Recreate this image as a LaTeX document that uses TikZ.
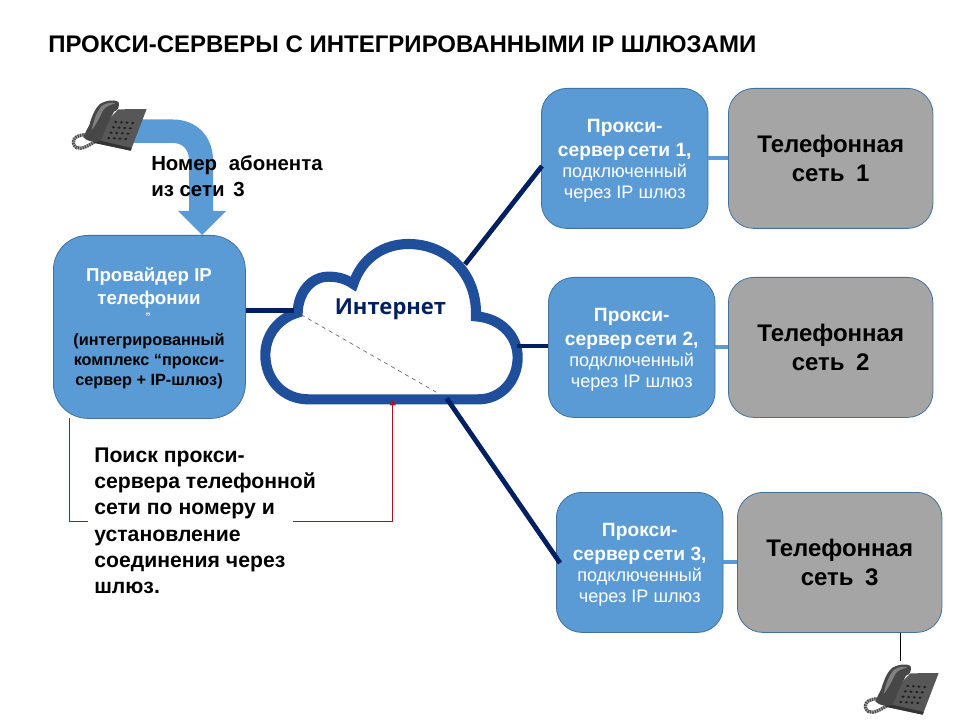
\documentclass[tikz,border=0pt]{standalone}
\usepackage{fontspec}
\setmainfont{Liberation Sans}
\newfontfamily\cloudfont{Open Sans}
\usetikzlibrary{arrows.meta,positioning}
\definecolor{boxblue}{HTML}{5B9BD5}
\definecolor{boxedge}{HTML}{41719C}
\definecolor{grayfill}{HTML}{A5A5A5}
\definecolor{navy}{HTML}{002060}
\definecolor{cloudblue}{HTML}{1F4E9B}
\definecolor{redline}{HTML}{B01020}
\newcommand{\pxb}{\bfseries\fontsize{14.4}{15.75}\selectfont}
\newcommand{\pxr}{\fontsize{13.6}{15.75}\selectfont}
\tikzset{
  bluebox/.style={draw=boxedge,line width=.6pt,fill=boxblue,rounded corners=19pt,inner sep=0pt,
    minimum width=125pt,minimum height=105pt,align=center,text=white,anchor=north west,font=\fontsize{13}{15.75}\selectfont},
  graybox/.style={draw=boxedge,line width=.6pt,fill=grayfill,rounded corners=19pt,inner sep=0pt,
    minimum width=153.4pt,minimum height=105pt,align=center,text=black,font=\bfseries\fontsize{18}{22}\selectfont,anchor=north west},
  navyline/.style={draw=navy,line width=3.6pt},
  feedline/.style={draw=boxblue,line width=3pt},
  redwire/.style={draw=redline,line width=.75pt},
  blacktext/.style={inner sep=0pt,align=left,anchor=north west,text=black}
}
\newcommand{\proxytext}[1]{\rule{0pt}{13pt}\pxb Прокси-\\[2.2pt] \pxb сервер\hspace{.15em}сети #1,\\ \pxr подключенный\\ \pxr через IP шлюз}
\newcommand{\phonepic}{%
  \draw[line width=2.4pt,draw=black!35,line cap=round] (145,165) .. controls (100,160) and (90,190) .. (110,203) .. controls (125,210) and (150,195) .. (172,180);
  \draw[line width=2.4pt,draw=black!70,dash pattern=on .9pt off .9pt] (145,165) .. controls (100,160) and (90,190) .. (110,203) .. controls (125,210) and (150,195) .. (172,180);
  \fill[black!66] (235,88) -- (320,87) -- (272,212) -- (160,188) -- (190,135) -- cycle;
  \fill[black!80] (160,188) -- (272,212) -- (275,204) -- (172,180) -- cycle;
  \foreach \i in {0,1,2,3} \foreach \j in {0,1,2,3}
    \fill[black!88] ({227+\i*17-\j*7},{126+\j*16+\i*1}) ellipse [x radius=5,y radius=3.6];
  \fill[black!72] (180,72) .. controls (200,60) and (225,58) .. (236,66) .. controls (238,80) and (236,90) .. (222,95) .. controls (210,115) and (195,150) .. (183,180) .. controls (170,190) and (140,185) .. (130,172) .. controls (135,160) and (140,150) .. (148,135) .. controls (155,110) and (165,85) .. (180,72) -- cycle;
  \fill[black!50] (185,78) .. controls (200,68) and (215,66) .. (226,70) .. controls (210,75) and (195,80) .. (190,90) .. controls (180,110) and (168,135) .. (155,150) .. controls (160,125) and (170,95) .. (185,78) -- cycle;
}
\begin{document}
\begin{tikzpicture}[x=.75pt,y=-.75pt]
\useasboundingbox (0,0) rectangle (960,720);
\fill[white] (0,0) rectangle (960,720);

% title
\node[inner sep=0pt,anchor=west,font=\bfseries\fontsize{18}{20}\selectfont] (title) at (48,44.5) {ПРОКСИ-СЕРВЕРЫ С ИНТЕГРИРОВАННЫМИ IP ШЛЮЗАМИ};

% boxes
\node[bluebox,minimum width=144pt,minimum height=137.25pt,rounded corners=26pt] (prov) at (53,235) {};
\node[bluebox] (p1) at (541,88) {\proxytext{1}};
\node[bluebox] (p2) at (548,277) {\proxytext{2}};
\node[bluebox] (p3) at (556,492) {\proxytext{3}};
\node[graybox] (g1) at (728,88) {Телефонная\\сеть\hspace{.2em} 1};
\node[graybox] (g2) at (728,277) {Телефонная\\сеть\hspace{.2em} 2};
\node[graybox] (g3) at (737,492) {Телефонная\\сеть\hspace{.2em} 3};

% provider text
\node[inner sep=0pt,align=center,text=white,anchor=north,font=\bfseries\fontsize{14}{17.25}\selectfont] (provtitle) at (149,267.5) {Провайдер IP\\телефонии};
\node[inner sep=0pt,text=white,font=\bfseries\fontsize{8}{9}\selectfont] (provmark) at (148,317) {”};
\node[inner sep=0pt,align=center,text=black,anchor=north,font=\bfseries\fontsize{12.2}{15.2}\selectfont] (provsub) at (149,333) {(интегрированный\\комплекс “прокси-\\сервер + IP-шлюз)};

% bent arrow
\fill[boxblue] (133,119.5) -- (173,119.5) .. controls (197,119.5) and (213,137) .. (213,160) -- (213,211) -- (226,211) -- (202,235) -- (178,211) -- (189,211) -- (189,160) .. controls (189,150) and (183,143) .. (173,143) -- (133,143) -- cycle;

% phones
\begin{scope}[shift={(40,80)},xscale=1/3,yscale=1/3]\phonepic\end{scope}
\begin{scope}[shift={(832,644)},xscale=1/3,yscale=1/3]\phonepic\end{scope}
\coordinate (phonetop) at (900.5,661);
\draw[draw=black,line width=.75pt] (g3.south -| phonetop) -- (phonetop);

% cloud
\begin{scope}[shift={(240,220)},xscale=1/3,yscale=1/3]
  \draw[draw=cloudblue,line width=7.6pt,line join=miter,fill=white]
    (205,538) -- (715,538) .. controls (785,538) and (833,480) .. (833,412)
    .. controls (833,350) and (785,295) .. (708,289)
    .. controls (712,160) and (620,72) .. (505,72)
    .. controls (430,72) and (365,115) .. (340,192)
    .. controls (315,175) and (290,170) .. (265,170)
    .. controls (215,170) and (175,215) .. (173,278)
    .. controls (115,295) and (76,345) .. (76,405)
    .. controls (76,480) and (130,538) .. (205,538) -- cycle;
  \coordinate (cloudW) at (162,272);
  \coordinate (cloudE) at (830,378);
  \coordinate (cloudNE) at (675,133);
  \coordinate (cloudS) at (620,535);
  \coordinate (cloudB) at (458.5,538);
  \coordinate (dashA) at (183,284);
  \coordinate (dashB) at (600,523);
\end{scope}
\node[inner sep=0pt,text=navy,font=\cloudfont\bfseries\fontsize{16.5}{20}\selectfont] (inet) at (390.5,309) {Интернет};
\draw[draw=black!60,line width=.5pt,dashed] (dashA) -- (dashB);

% connectors
\draw[navyline] (prov.east |- cloudW) -- (cloudW);
\draw[navyline] (cloudE) -- (cloudE -| p2.west);
\coordinate (p1in) at (542,166);
\coordinate (p3in) at (560,563);
\draw[navyline] (cloudNE) -- (p1in);
\draw[navyline] (cloudS) -- (p3in);
\draw[feedline] (p1.east) -- (g1.west);
\draw[feedline] (p2.east) -- (g2.west);
\draw[feedline] (p3.east) -- (g3.west);

% red search lines
\coordinate (redA) at (88,521.5);
\coordinate (redB) at (293,521.5);
\draw[redwire] (69.5,418) |- (redA);
\draw[redwire,-{Latex[length=4.5pt,width=5pt]}] (redB) -| (cloudB);

% labels
\node[blacktext,font=\bfseries\fontsize{15.3}{19}\selectfont] (numlabel) at (151,155.5) {Номер\hspace{.3em} абонента\\из сети\hspace{.15em} 3};
\node[blacktext,font=\bfseries\fontsize{15.9}{19.55}\selectfont] (searchlabel) at (94,448) {Поиск прокси-\\сервера телефонной\\сети по номеру и\\установление\\соединения через\\шлюз.};
\end{tikzpicture}
\end{document}
